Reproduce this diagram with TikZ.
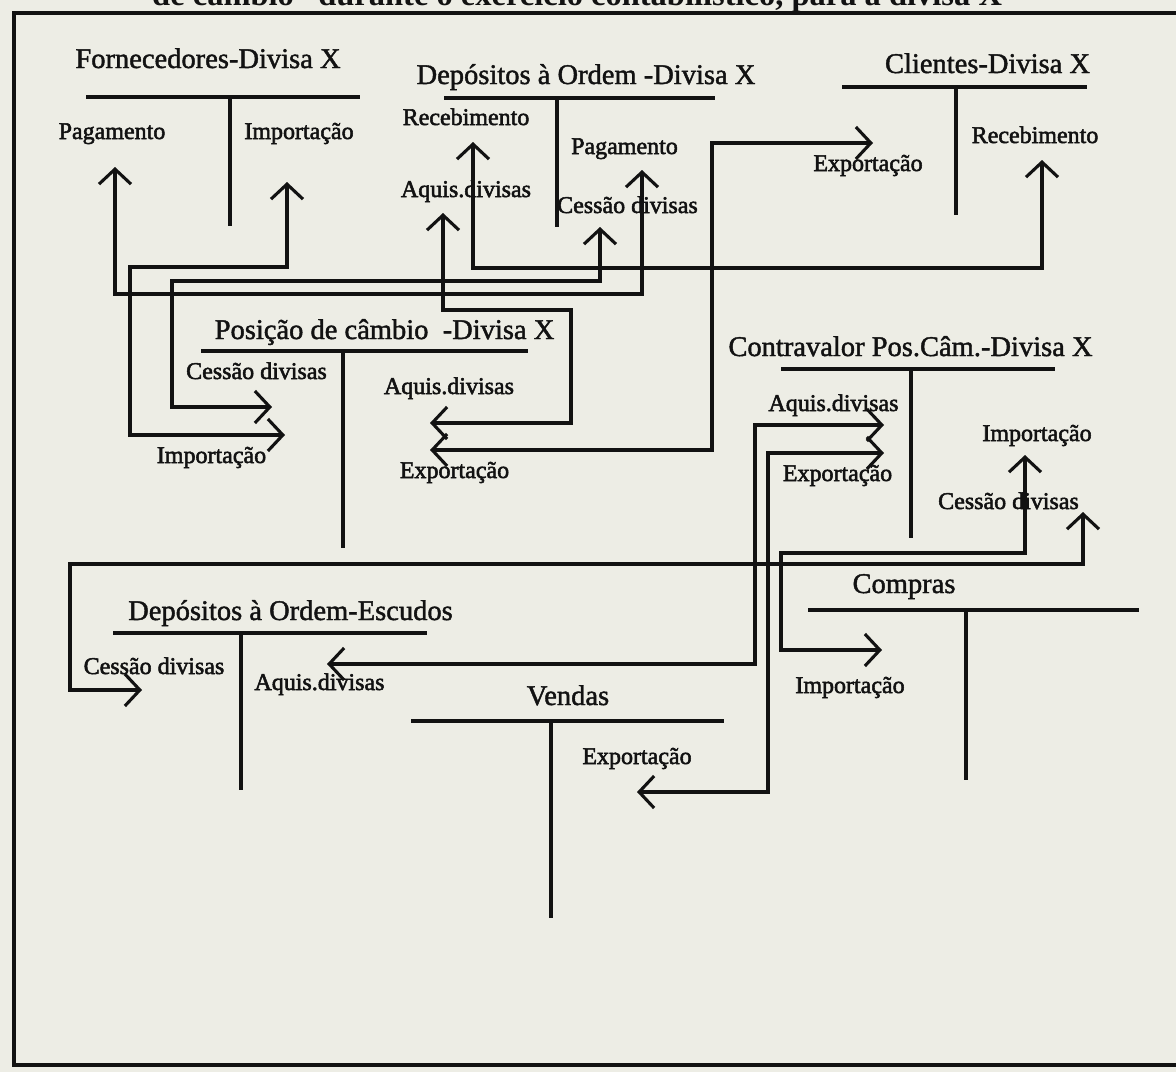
\documentclass[tikz,border=0pt]{standalone}
\usepackage{fontspec}
\setmainfont{Liberation Serif}
\newfontfamily\acctfont[FakeBold=1.5]{Liberation Serif}
\newfontfamily\lblfont[FakeBold=2.2]{Liberation Serif}
\usetikzlibrary{arrows.meta}
\definecolor{paper}{RGB}{237,237,229}
\definecolor{ink}{RGB}{18,18,18}
\tikzset{
  acct/.style={font=\acctfont\fontsize{28.5}{30}\selectfont, anchor=base, inner sep=0pt, text=ink},
  lbl/.style={font=\lblfont\fontsize{24}{26}\selectfont, anchor=base, inner sep=0pt, text=ink},
  tline/.style={draw=ink, line width=3.1pt},
  conn/.style={draw=ink, line width=3.1pt, line join=miter,
    {Straight Barb[length=15pt,width=32pt]}-{Straight Barb[length=15pt,width=32pt]}},
  frame/.style={draw=ink, line width=3.6pt},
}
\begin{document}
\begin{tikzpicture}[x=1pt,y=-1pt]
\fill[paper] (0,0) rectangle (1176,1072);
\useasboundingbox (0,0) rectangle (1176,1072);

% heading (only its lower part lies on the page)
\node[font=\fontsize{32.5}{34}\selectfont\bfseries, anchor=base west, inner sep=0pt, text=ink]
  (hdr) at (152,5) {de câmbio” durante o exercício contabilístico, para a divisa X};

% outer frame
\draw[frame] (1180,13) -- (14,13) -- (14,1065) -- (1180,1065);

% ---- T accounts ----
\node[acct] (forn) at (208,68) {Fornecedores-Divisa X};
\draw[tline] (86,97) -- (360,97) (230,97) -- (230,226);

\node[acct] (depx) at (586,84) {Depósitos à Ordem -Divisa X};
\draw[tline] (444,98) -- (715,98) (557,98) -- (557,227);

\node[acct] (cli) at (987.5,73) {Clientes-Divisa X};
\draw[tline] (842,87) -- (1087,87) (956,87) -- (956,215);

\node[acct] (pos) at (384.5,339) {Posição de câmbio~ -Divisa X};
\draw[tline] (201,351) -- (528,351) (343,351) -- (343,548);

\node[acct] (ctv) at (910.5,356) {Contravalor Pos.Câm.-Divisa X};
\draw[tline] (781,369) -- (1055,369) (911,369) -- (911,538);

\node[acct] (comp) at (904,593) {Compras};
\draw[tline] (808,610) -- (1139,610) (966,610) -- (966,780);

\node[acct] (depe) at (290.5,620) {Depósitos à Ordem-Escudos};
\draw[tline] (113,633) -- (427,633) (241,633) -- (241,790);

\node[acct] (vend) at (568,705) {Vendas};
\draw[tline] (411,721) -- (724,721) (551,721) -- (551,918);

% ---- entry labels ----
\node[lbl] (lpagF) at (112,139) {Pagamento};
\node[lbl] (limpF) at (299,139) {Importação};
\node[lbl] (lrecD) at (466,125) {Recebimento};
\node[lbl] (laqD)  at (466,197) {Aquis.divisas};
\node[lbl] (lpagD) at (624.5,154) {Pagamento};
\node[lbl] (lcesD) at (627.5,213) {Cessão divisas};
\node[lbl] (lexpC) at (868,171) {Exportação};
\node[lbl] (lrecC) at (1035,143) {Recebimento};
\node[lbl] (lcesP) at (256.5,379) {Cessão divisas};
\node[lbl] (limpP) at (211.5,463) {Importação};
\node[lbl] (laqP)  at (449,394) {Aquis.divisas};
\node[lbl] (lexpP) at (454.5,478) {Exportação};
\node[lbl] (laqV)  at (833.5,411) {Aquis.divisas};
\node[lbl] (lexpV) at (837.5,481) {Exportação};
\node[lbl] (limpV) at (1037,441) {Importação};
\node[lbl] (lcesV) at (1008.5,509) {Cessão divisas};
\node[lbl] (lcesE) at (154,674) {Cessão divisas};
\node[lbl] (laqE)  at (319.5,690) {Aquis.divisas};
\node[lbl] (lexpS) at (637,764) {Exportação};
\node[lbl] (limpK) at (850,693) {Importação};

% ---- arrow ends ----
\coordinate (pagF) at (115,167);
\coordinate (impF) at (287,182);
\coordinate (recD) at (473,142);
\coordinate (aqD)  at (443,213);
\coordinate (pagD) at (642,170);
\coordinate (cesD) at (600,227);
\coordinate (expC) at (873,143);
\coordinate (recC) at (1042,160);
\coordinate (cesP) at (272,407);
\coordinate (impP) at (285,435);
\coordinate (aqP)  at (430,423);
\coordinate (expP) at (430,450);
\coordinate (aqV)  at (884,425);
\coordinate (expV) at (884,453);
\coordinate (impV) at (1025,455);
\coordinate (cesV) at (1083,512);
\coordinate (cesE) at (142,690);
\coordinate (aqE)  at (327,664);
\coordinate (expS) at (637,792);
\coordinate (impK) at (882,650);

% ---- connectors ----
\draw[conn] (pagF) |- (642,294) -- (pagD);
\draw[conn] (impF) |- (130,267) |- (impP);
\draw[conn] (cesP) -| (172,281) -| (cesD);
\draw[conn] (recD) |- (1042,268) -- (recC);
\draw[conn] (aqD) |- (571,310) |- (aqP);
\draw[conn] (expP) -| (712,143) -- (expC);
\draw[conn] (aqV) -| (755,664) -- (aqE);
\draw[conn] (expV) -| (768,792) -- (expS);
\draw[conn] (impV) |- (781,553) |- (impK);
\draw[conn] (cesV) |- (70,564) |- (cesE);
\end{tikzpicture}
\end{document}
